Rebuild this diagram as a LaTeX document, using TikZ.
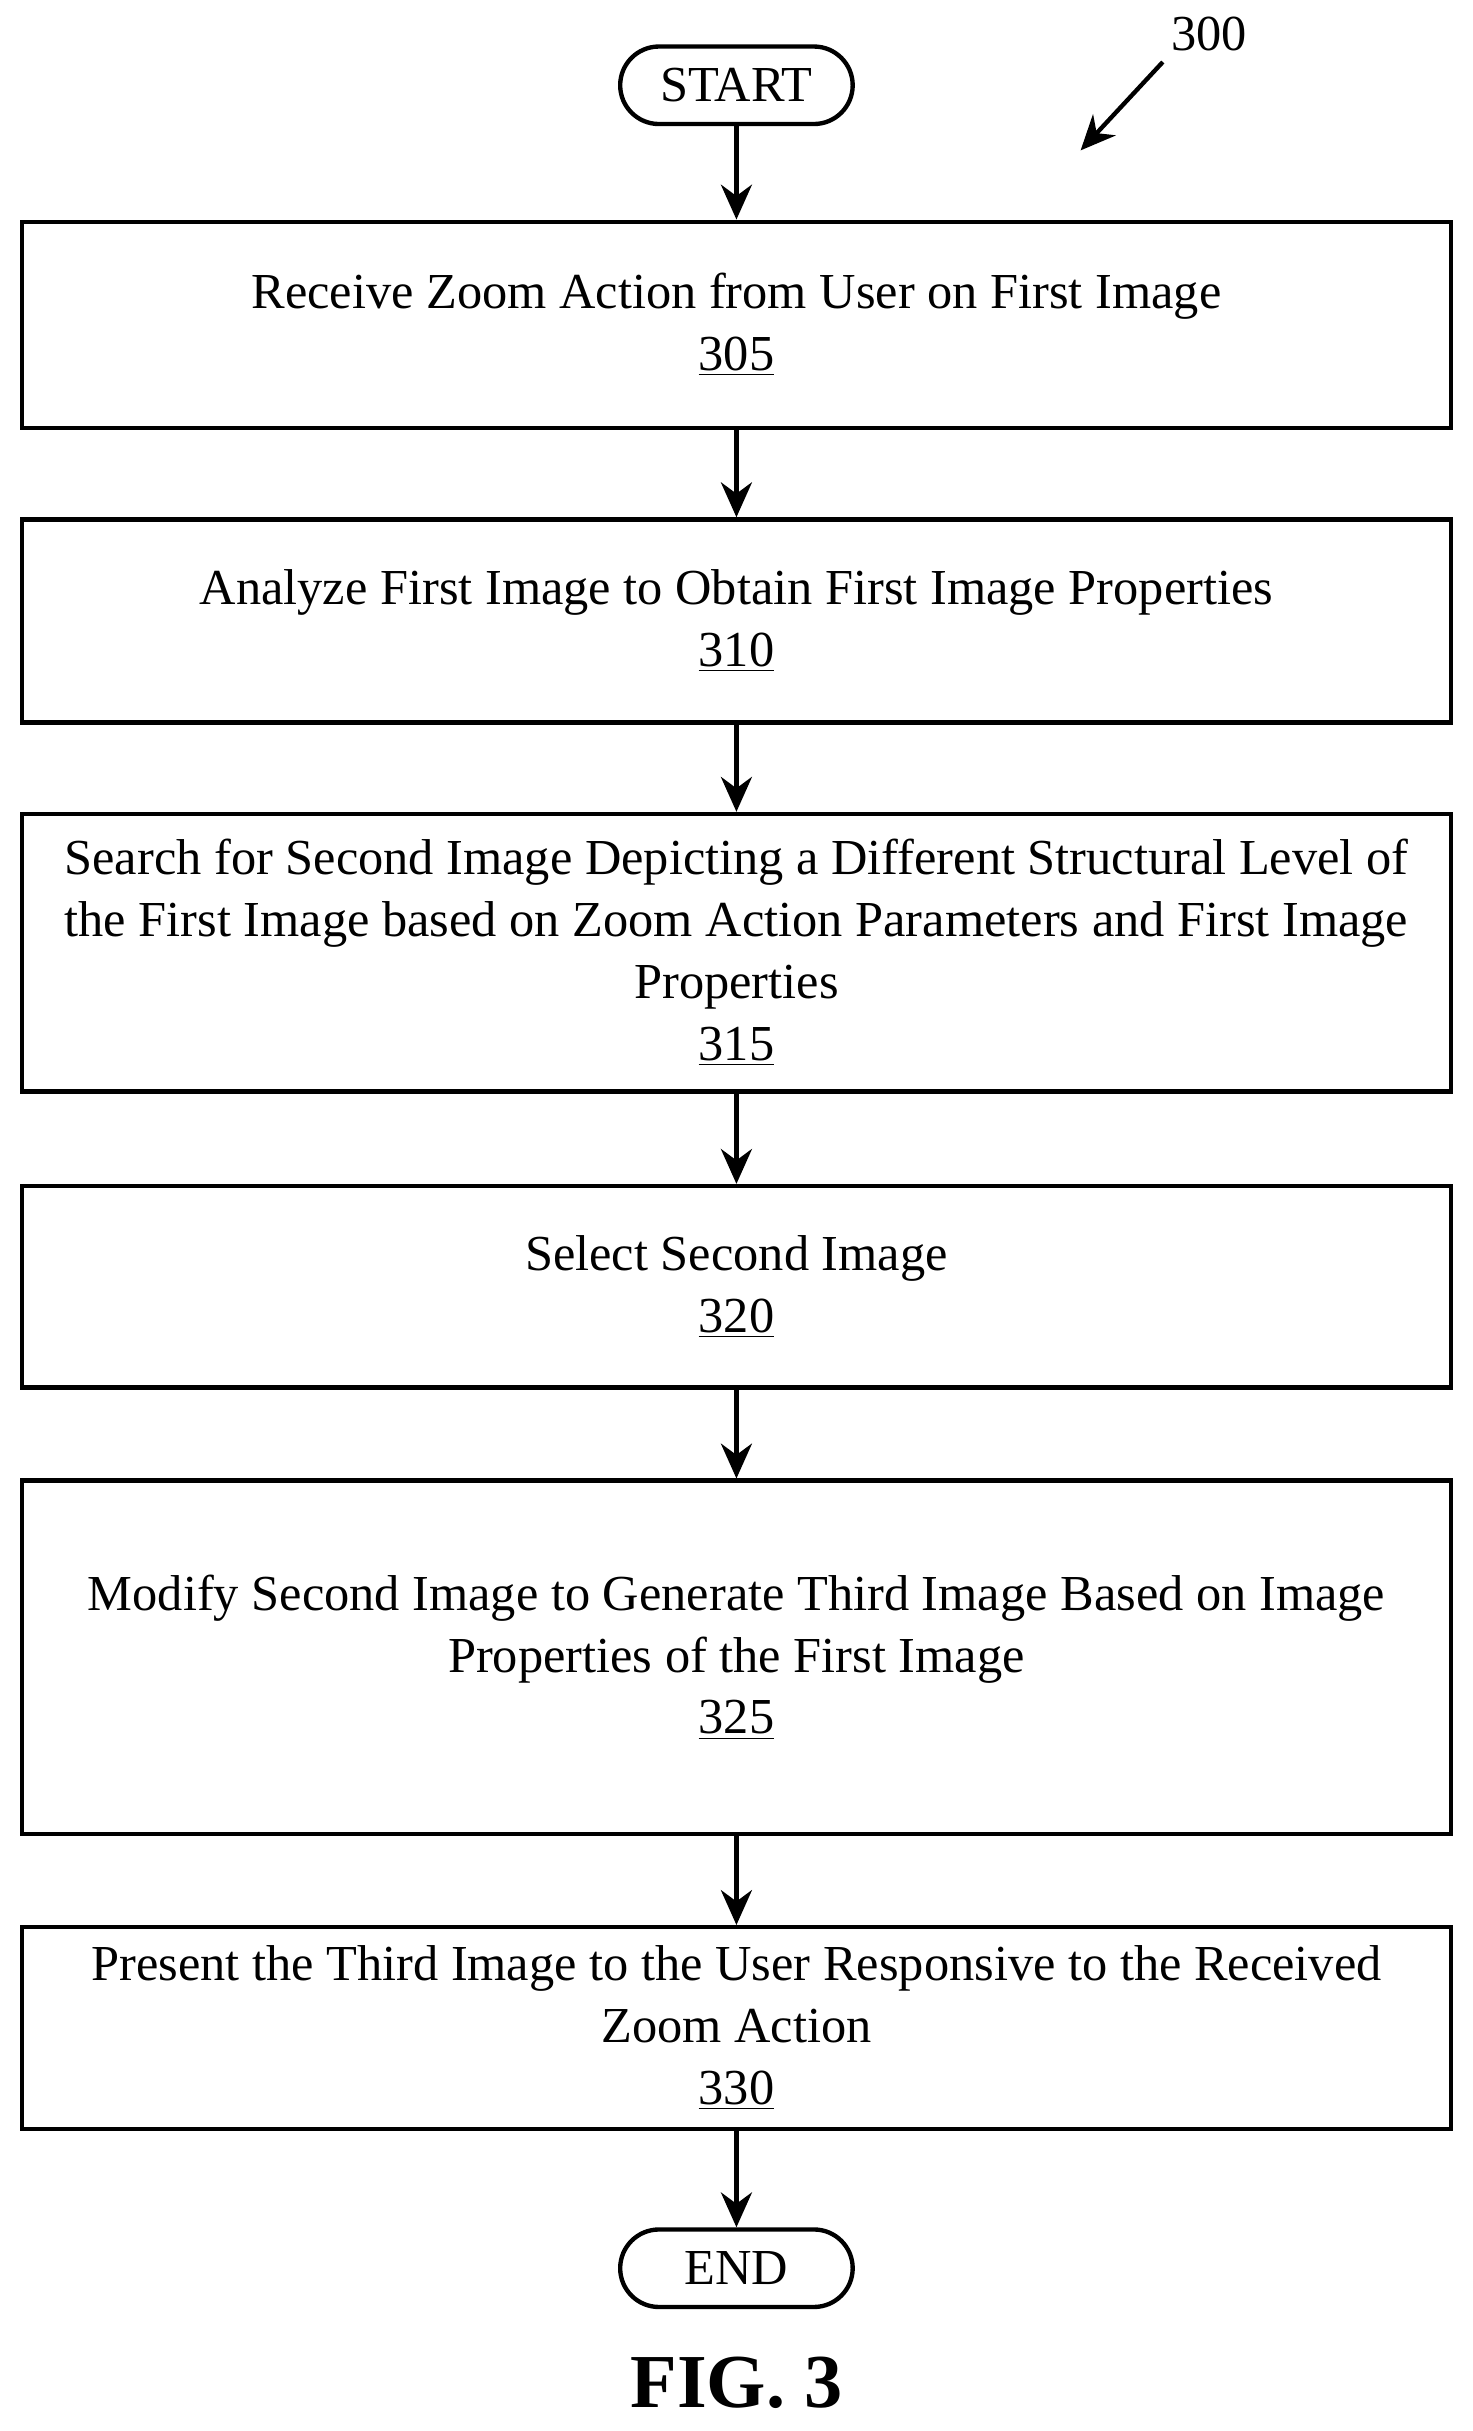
\documentclass[tikz,border=0pt]{standalone}
\usepackage{fontspec}
\setmainfont{Liberation Serif}
\usetikzlibrary{arrows.meta}
\tikzset{
  stepbox/.style={draw, line width=1.6pt, minimum width=18.44cm, align=center, font=\fontsize{18.5}{22.7}\selectfont},
  term/.style={draw, line width=1.6pt, rounded corners=0.5cm, minimum width=3cm, minimum height=1cm, font=\fontsize{18.5}{20}\selectfont},
  flow/.style={-{Stealth[length=0.45cm,width=0.4cm]}, line width=1.6pt}
}
\begin{document}
\begin{tikzpicture}[x=0.02cm,y=-0.02cm]
\useasboundingbox (0,0) rectangle (950,1568);
\node[term] (start) at (475,55) {START};
\node[stepbox, minimum height=2.66cm] (s305) at (475,209.5) {Receive Zoom Action from User on First Image\\\underline{305}};
\node[stepbox, minimum height=2.62cm] (s310) at (475,400.5) {Analyze First Image to Obtain First Image Properties\\\underline{310}};
\node[stepbox, minimum height=3.58cm] (s315) at (475,614.5) {Search for Second Image Depicting a Different Structural Level of\\the First Image based on Zoom Action Parameters and First Image\\Properties\\\underline{315}};
\node[stepbox, minimum height=2.6cm] (s320) at (475,830) {Select Second Image\\\underline{320}};
\node[stepbox, minimum height=4.56cm] (s325) at (475,1069) {Modify Second Image to Generate Third Image Based on Image\\Properties of the First Image\\\underline{325}};
\node[stepbox, minimum height=2.6cm] (s330) at (475,1308) {Present the Third Image to the User Responsive to the Received\\Zoom Action\\\underline{330}};
\node[term] (end) at (475,1463) {END};
\node[font=\bfseries\fontsize{28}{32}\selectfont] (fig) at (475,1537) {FIG. 3};
\node[font=\fontsize{18.5}{20}\selectfont] (ref) at (780,22) {300};
\coordinate (refend) at (697,97);
\draw[flow] (start) -- (s305);
\draw[flow] (s305) -- (s310);
\draw[flow] (s310) -- (s315);
\draw[flow] (s315) -- (s320);
\draw[flow] (s320) -- (s325);
\draw[flow] (s325) -- (s330);
\draw[flow] (s330) -- (end);
\draw[flow] (750,40) -- (refend);
\end{tikzpicture}
\end{document}
